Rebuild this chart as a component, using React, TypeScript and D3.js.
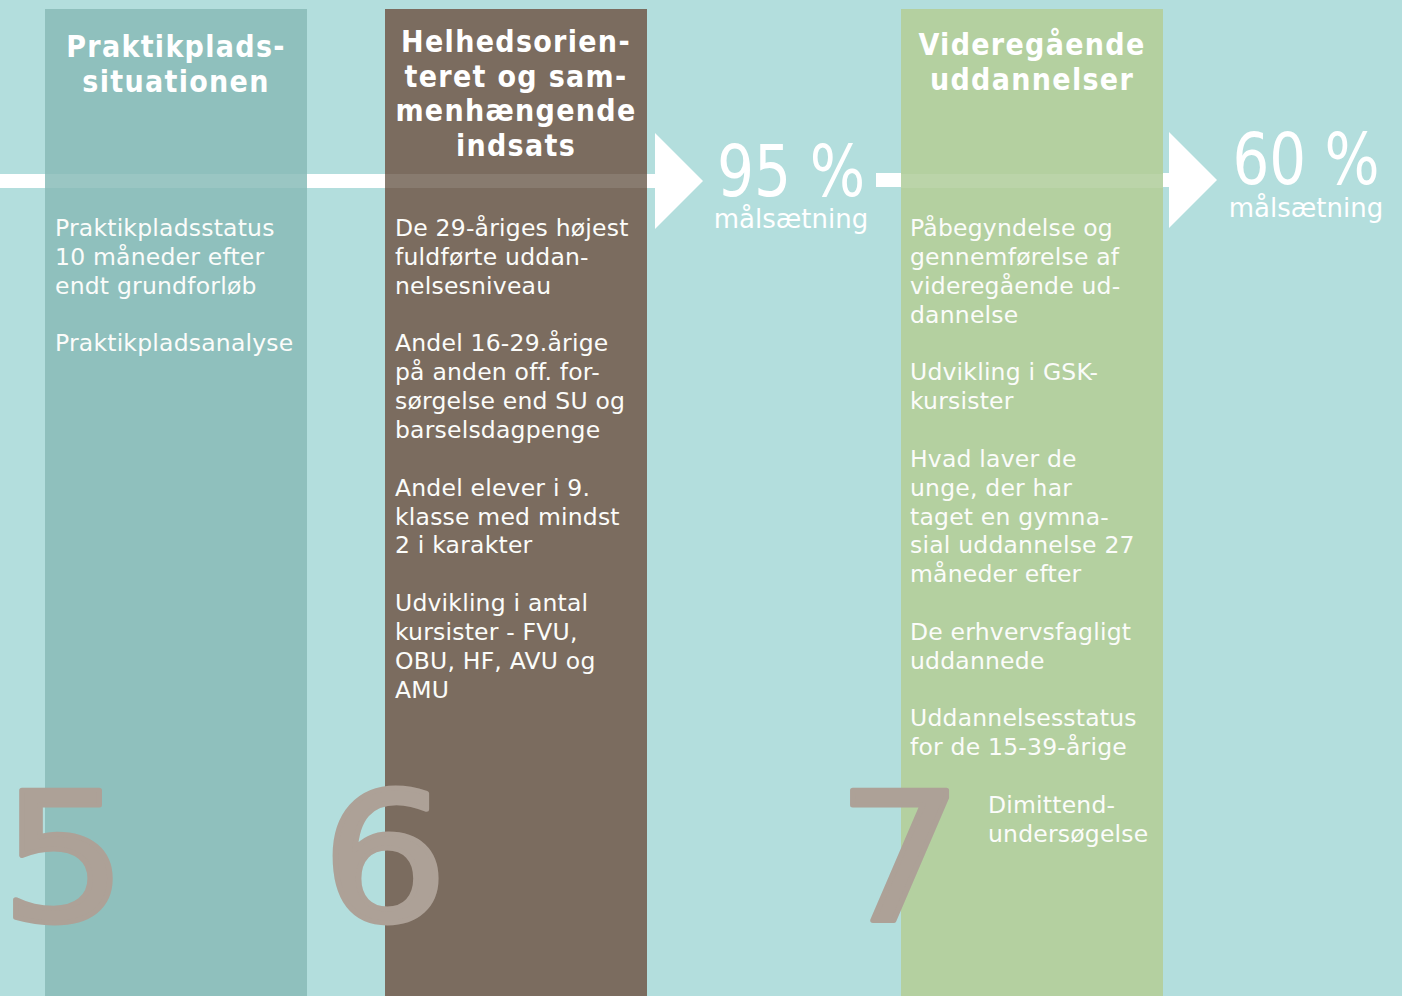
import React from "react";
import * as d3 from "d3";

const W = 1402;
const H = 996;

// ---- data ----
const columnTitles: string[][] = [
  ["Praktikplads-", "situationen"],
  ["Helhedsorien-", "teret og sam-", "menhængende", "indsats"],
  ["Videregående", "uddannelser"],
];
const columnLines: string[][] = [
  ["Praktikpladsstatus", "10 måneder efter", "endt grundforløb", "", "Praktikpladsanalyse"],
  [
    "De 29-åriges højest", "fuldførte uddan-", "nelsesniveau", "",
    "Andel 16-29.årige", "på anden off. for-", "sørgelse end SU og", "barselsdagpenge", "",
    "Andel elever i 9.", "klasse med mindst", "2 i karakter", "",
    "Udvikling i antal", "kursister - FVU,", "OBU, HF, AVU og", "AMU",
  ],
  [
    "Påbegyndelse og", "gennemførelse af", "videregående ud-", "dannelse", "",
    "Udvikling i GSK-", "kursister", "",
    "Hvad laver de", "unge, der har", "taget en gymna-", "sial uddannelse 27", "måneder efter", "",
    "De erhvervsfagligt", "uddannede", "",
    "Uddannelsesstatus", "for de 15-39-årige", "",
  ],
];
const extraLines: string[] = ["Dimittend-", "undersøgelse"];
const stepNumbers: string[] = ["5", "6", "7"];
const goals: string[] = ["95 %", "60 %"];
const goalLabel = "målsætning";

// ---- layout ----
const colors = {
  bg: "#b3dedd",
  cols: ["#8fc0bd", "#7b6c5f", "#b4d0a0"],
  num: "#ada197",
};
const colLeft = [45, 385, 901];
const colW = 262;
const colTop = 9;
const titleBase = [57, 52, 55];
const textLeft = [55, 395, 910];
const numCenter = [64, 385, 900];
const arrows = [
  { x: 655, y: 181, lineFrom: 0 },
  { x: 1169, y: 180, lineFrom: 876 },
];
const goalCenter = [
  { x: 791, y: 196, ly: 228, w: 148 },
  { x: 1306, y: 184, ly: 217, w: 147 },
];

const lineY = d3.scaleLinear().domain([0, 1]).range([236, 264.85]);
const titleY = d3.scaleLinear().domain([0, 1]).range([0, 34.6]);

const bodyFont = "'DejaVu Sans', Verdana, sans-serif";
const headFont = "'DejaVu Sans Condensed', 'DejaVu Sans', sans-serif";
const narrowFont = "'DejaVu Sans Condensed', 'DejaVu Sans', sans-serif";
const numFont = "'DejaVu Sans', sans-serif";

export default function App() {
  const tri = d3.line();
  return (
    <svg width={W} height={H} style={{ position: "absolute", left: 0, top: 0, display: "block" }}>
      <rect x={0} y={0} width={W} height={H} fill={colors.bg} />
      {/* white line + arrows */}
      {arrows.map((a, i) => (
        <g key={"a" + i}>
          <rect x={a.lineFrom} y={a.y - 7} width={a.x - a.lineFrom + 2} height={14} fill="#fff" />
          <path
            d={tri([[a.x, a.y - 48], [a.x + 48, a.y], [a.x, a.y + 48]]) + "Z"}
            fill="#fff"
          />
        </g>
      ))}
      {/* columns */}
      {colLeft.map((x, i) => (
        <g key={"c" + i}>
          <rect x={x} y={colTop} width={colW} height={H - colTop} fill={colors.cols[i]} />
          <rect x={x} y={174} width={colW} height={14} fill="#fff" opacity={0.1} />
        </g>
      ))}
      {/* titles */}
      {columnTitles.map((lines, i) =>
        lines.map((t, j) => (
          <text
            key={"t" + i + j}
            x={colLeft[i] + colW / 2}
            y={titleBase[i] + titleY(j)}
            textAnchor="middle"
            fill="#fff"
            fontFamily={headFont}
            fontWeight="bold"
            fontSize={30}
            letterSpacing={1.3}
          >
            {t}
          </text>
        ))
      )}
      {/* body texts */}
      {columnLines.map((lines, i) =>
        lines.map((t, j) =>
          t ? (
            <text
              key={"b" + i + j}
              x={textLeft[i]}
              y={lineY(j)}
              fill="#fbfcfa"
              fontFamily={bodyFont}
              fontSize={23.5}
              letterSpacing={0.2}
            >
              {t}
            </text>
          ) : null
        )
      )}
      {extraLines.map((t, j) => (
        <text
          key={"e" + j}
          x={988}
          y={lineY(columnLines[2].length + j)}
          fill="#fbfcfa"
          fontFamily={bodyFont}
          fontSize={23.5}
          letterSpacing={0.2}
        >
          {t}
        </text>
      ))}
      {/* goals */}
      {goals.map((g, i) => (
        <g key={"g" + i}>
          <text
            x={goalCenter[i].x - goalCenter[i].w / 2}
            y={goalCenter[i].y}
            fill="#fff"
            fontFamily={narrowFont}
            fontSize={72}
            textLength={goalCenter[i].w}
            lengthAdjust="spacingAndGlyphs"
          >
            {g}
          </text>
          <text
            x={goalCenter[i].x}
            y={goalCenter[i].ly}
            textAnchor="middle"
            fill="#fff"
            fontFamily={bodyFont}
            fontSize={26}
          >
            {goalLabel}
          </text>
        </g>
      ))}
      {/* big step numbers */}
      {stepNumbers.map((n, i) => (
        <text
          key={"n" + i}
          transform={`translate(${numCenter[i]},920) scale(1.12,1)`}
          x={0}
          y={0}
          textAnchor="middle"
          fill={colors.num}
          stroke={colors.num}
          strokeWidth={5}
          strokeLinejoin="round"
          fontFamily={numFont}
          fontSize={178}
        >
          {n}
        </text>
      ))}
    </svg>
  );
}
